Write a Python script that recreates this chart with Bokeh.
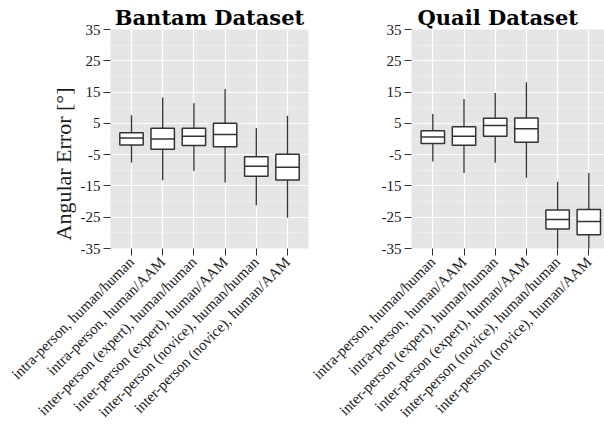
import math
from bokeh.plotting import figure
from bokeh.layouts import row
from bokeh.models import Range1d, FixedTicker, Title
from bokeh.embed import file_html
from bokeh.resources import INLINE

categories = [
    "intra-person, human/human",
    "intra-person, human/AAM",
    "inter-person (expert), human/human",
    "inter-person (expert), human/AAM",
    "inter-person (novice), human/human",
    "inter-person (novice), human/AAM",
]

# Bantam dataset box statistics (degrees)
bantam_low = [-7.5, -13.2, -10.2, -13.9, -21.2, -25.2]
bantam_q1 = [-1.9, -3.3, -2.1, -2.5, -11.9, -13.1]
bantam_med = [0.3, 0.0, 0.9, 1.4, -8.7, -9.0]
bantam_q3 = [2.0, 3.4, 3.4, 5.0, -5.7, -4.9]
bantam_high = [7.6, 13.3, 11.4, 16.0, 3.5, 7.4]

# Quail dataset box statistics (degrees)
quail_low = [-7.2, -10.9, -7.6, -12.4, -36.0, -36.0]
quail_q1 = [-1.4, -2.0, 0.9, -1.0, -28.8, -30.6]
quail_med = [0.6, 0.9, 4.3, 3.3, -25.7, -26.4]
quail_q3 = [2.6, 3.9, 6.6, 6.7, -22.7, -22.5]
quail_high = [8.0, 12.8, 14.7, 18.1, -13.7, -10.9]

y_ticks = [-35, -25, -15, -5, 5, 15, 25, 35]
y_tick_labels = ["-35", "-25", "-15", "-5", "5", "15", "25", "35"]
y_minor = [-30, -20, -10, 0, 10, 20, 30]

SERIF = "Liberation Serif"
DARK = "#333333"


def make_panel(title, low, q1, med, q3, high, x_start, x_end, width,
               border_left, border_right, ylabel, title_align="center",
               title_offset=0):
    xs = list(range(1, len(categories) + 1))
    p = figure(width=width, height=430,
               x_range=Range1d(x_start, x_end), y_range=Range1d(-35, 35),
               output_backend="svg", toolbar_location=None,
               min_border_left=border_left, min_border_right=border_right,
               min_border_top=29, min_border_bottom=182)
    p.background_fill_color = "#E5E5E5"
    p.border_fill_color = None
    p.outline_line_color = None

    p.title.text = title
    p.title.align = title_align
    p.title.text_font = "DejaVu Serif"
    p.title.text_font_size = "21px"
    p.title.text_font_style = "bold"
    p.title.text_color = "black"
    p.title.standoff = 0
    p.title.offset = title_offset

    p.xgrid.ticker = FixedTicker(ticks=xs)
    p.xgrid.grid_line_color = "white"
    p.xgrid.grid_line_width = 1.2
    p.ygrid.ticker = FixedTicker(ticks=y_ticks, minor_ticks=y_minor)
    p.ygrid.grid_line_color = "white"
    p.ygrid.grid_line_width = 1.2
    p.ygrid.minor_grid_line_color = "#F2F2F2"
    p.ygrid.minor_grid_line_width = 0.7

    p.yaxis.ticker = FixedTicker(ticks=y_ticks, minor_ticks=y_minor)
    p.yaxis.major_label_overrides = {t: s for t, s in zip(y_ticks, y_tick_labels)}
    p.yaxis.axis_line_color = None
    p.yaxis.major_tick_line_color = DARK
    p.yaxis.major_tick_out = 7
    p.yaxis.major_tick_in = 0
    p.yaxis.minor_tick_line_color = None
    p.yaxis.major_label_text_font = SERIF
    p.yaxis.major_label_text_font_size = "15px"
    p.yaxis.major_label_text_color = "#1a1a1a"
    p.yaxis.major_label_standoff = 3

    p.xaxis.ticker = FixedTicker(ticks=xs)
    p.xaxis.major_label_overrides = {x: c for x, c in zip(xs, categories)}
    p.xaxis.major_label_orientation = math.pi / 4
    p.xaxis.axis_line_color = None
    p.xaxis.major_tick_line_color = DARK
    p.xaxis.major_tick_out = 7
    p.xaxis.major_tick_in = 0
    p.xaxis.minor_tick_line_color = None
    p.xaxis.major_label_text_font = SERIF
    p.xaxis.major_label_text_font_size = "15px"
    p.xaxis.major_label_text_color = "#1a1a1a"
    p.xaxis.major_label_standoff = 4

    bw = 0.75
    p.segment(x0=xs, y0=low, x1=xs, y1=high, line_color=DARK, line_width=1.3)
    p.vbar(x=xs, width=bw, bottom=q1, top=q3, fill_color="white",
           line_color=DARK, line_width=1.5)
    p.segment(x0=[x - bw / 2 for x in xs], y0=med,
              x1=[x + bw / 2 for x in xs], y1=med,
              line_color=DARK, line_width=1.5)

    if ylabel:
        t = Title(text=ylabel, align="left", offset=8,
                  text_font=SERIF, text_font_size="22px",
                  text_font_style="normal", text_color="#1a1a1a",
                  standoff=3)
        p.add_layout(t, "left")
    return p


left = make_panel("Bantam Dataset", bantam_low, bantam_q1, bantam_med,
                  bantam_q3, bantam_high, 0.327, 6.673, 348, 110, 40,
                  "Angular Error [°]")
right = make_panel("Quail Dataset", quail_low, quail_q1, quail_med,
                   quail_q3, quail_high, 0.317, 6.503, 346, 153, 0, None,
                   title_align="left", title_offset=6)
right.styles = {"margin-left": "-90px"}

layout = row(left, right)
open("out.html", "w").write(file_html(layout, INLINE))
